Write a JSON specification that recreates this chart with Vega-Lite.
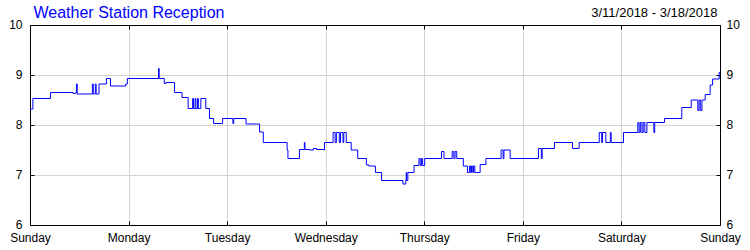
{
  "$schema": "https://vega.github.io/schema/vega-lite/v6.json",
  "width": 690,
  "height": 200,
  "autosize": {"type": "none"},
  "padding": {"left": 30, "top": 25, "right": 30, "bottom": 25},
  "background": "white",
  "view": {"stroke": null},
  "config": {
    "font": "Liberation Sans",
    "axis": {
      "labelFont": "Liberation Sans",
      "labelFontSize": 12,
      "labelColor": "black",
      "domainColor": "black",
      "domainWidth": 1,
      "tickColor": "black",
      "tickSize": -4,
      "gridColor": "#d3d3d3",
      "gridWidth": 1,
      "gridOpacity": 1,
      "labelOverlap": false,
      "labelFlush": false
    }
  },
  "data": {
    "values": [
      {"h": 0, "v": 8.32}, {"h": 0.7, "v": 8.53}, {"h": 5.0, "v": 8.65}, {"h": 10.5, "v": 8.63},
      {"h": 11.0, "v": 8.64}, {"h": 11.3, "v": 8.82}, {"h": 11.5, "v": 8.62}, {"h": 15.2, "v": 8.82},
      {"h": 15.4, "v": 8.62}, {"h": 15.9, "v": 8.82}, {"h": 16.1, "v": 8.62}, {"h": 16.8, "v": 8.82},
      {"h": 18.6, "v": 8.93}, {"h": 19.6, "v": 8.78}, {"h": 23.3, "v": 8.82}, {"h": 23.7, "v": 8.93},
      {"h": 31.3, "v": 9.13}, {"h": 31.45, "v": 8.93}, {"h": 32.7, "v": 8.83}, {"h": 33.1, "v": 8.85},
      {"h": 35.2, "v": 8.65}, {"h": 37.0, "v": 8.55}, {"h": 38.5, "v": 8.33}, {"h": 39.6, "v": 8.53},
      {"h": 39.8, "v": 8.33}, {"h": 40.2, "v": 8.53}, {"h": 40.4, "v": 8.33}, {"h": 40.8, "v": 8.53},
      {"h": 41.0, "v": 8.33}, {"h": 41.6, "v": 8.53}, {"h": 42.8, "v": 8.33}, {"h": 43.7, "v": 8.13},
      {"h": 44.7, "v": 8.03}, {"h": 46.9, "v": 8.13}, {"h": 49.4, "v": 8.03}, {"h": 49.6, "v": 8.13},
      {"h": 52.6, "v": 8.02}, {"h": 55.9, "v": 7.86}, {"h": 56.8, "v": 7.65}, {"h": 62.6, "v": 7.5},
      {"h": 62.8, "v": 7.33}, {"h": 65.6, "v": 7.51}, {"h": 66.8, "v": 7.65}, {"h": 66.95, "v": 7.51},
      {"h": 68.0, "v": 7.5}, {"h": 69.0, "v": 7.53}, {"h": 69.8, "v": 7.51}, {"h": 71.6, "v": 7.5},
      {"h": 71.7, "v": 7.65}, {"h": 73.8, "v": 7.85}, {"h": 74.3, "v": 7.65}, {"h": 74.6, "v": 7.85},
      {"h": 75.3, "v": 7.65}, {"h": 75.6, "v": 7.85}, {"h": 76.2, "v": 7.65}, {"h": 76.4, "v": 7.85},
      {"h": 77.0, "v": 7.65}, {"h": 78.2, "v": 7.5}, {"h": 79.8, "v": 7.33}, {"h": 81.9, "v": 7.2},
      {"h": 82.5, "v": 7.18}, {"h": 84.1, "v": 7.05}, {"h": 85.6, "v": 6.89}, {"h": 90.8, "v": 6.82},
      {"h": 91.5, "v": 6.89}, {"h": 91.6, "v": 7.05}, {"h": 91.7, "v": 6.89}, {"h": 92.0, "v": 7.05},
      {"h": 93.5, "v": 7.19}, {"h": 94.7, "v": 7.33}, {"h": 95.0, "v": 7.19}, {"h": 95.3, "v": 7.33},
      {"h": 95.6, "v": 7.19}, {"h": 96.1, "v": 7.33}, {"h": 100.2, "v": 7.47}, {"h": 100.8, "v": 7.33},
      {"h": 102.8, "v": 7.47}, {"h": 103.2, "v": 7.33}, {"h": 103.5, "v": 7.47}, {"h": 103.9, "v": 7.33},
      {"h": 105.5, "v": 7.18}, {"h": 106.5, "v": 7.05}, {"h": 107.0, "v": 7.18}, {"h": 107.3, "v": 7.05},
      {"h": 107.5, "v": 7.18}, {"h": 107.8, "v": 7.05}, {"h": 108.0, "v": 7.18}, {"h": 108.3, "v": 7.05},
      {"h": 109.6, "v": 7.21}, {"h": 111.0, "v": 7.33}, {"h": 114.7, "v": 7.5}, {"h": 115.2, "v": 7.33},
      {"h": 115.4, "v": 7.5}, {"h": 116.9, "v": 7.33}, {"h": 123.8, "v": 7.53}, {"h": 124.5, "v": 7.33},
      {"h": 124.7, "v": 7.53}, {"h": 127.7, "v": 7.65}, {"h": 132.1, "v": 7.53}, {"h": 133.7, "v": 7.65},
      {"h": 138.6, "v": 7.85}, {"h": 139.2, "v": 7.65}, {"h": 139.4, "v": 7.85}, {"h": 140.2, "v": 7.65},
      {"h": 141.3, "v": 7.85}, {"h": 141.5, "v": 7.65}, {"h": 144.5, "v": 7.85}, {"h": 148.0, "v": 8.05},
      {"h": 148.3, "v": 7.85}, {"h": 148.6, "v": 8.05}, {"h": 149.0, "v": 7.85}, {"h": 149.3, "v": 8.05},
      {"h": 149.7, "v": 7.85}, {"h": 150.2, "v": 8.05}, {"h": 151.9, "v": 7.85}, {"h": 152.1, "v": 8.05},
      {"h": 154.5, "v": 8.13}, {"h": 158.7, "v": 8.35}, {"h": 161.0, "v": 8.5}, {"h": 162.6, "v": 8.29},
      {"h": 162.9, "v": 8.5}, {"h": 163.2, "v": 8.29}, {"h": 163.6, "v": 8.5}, {"h": 164.4, "v": 8.61},
      {"h": 165.6, "v": 8.8}, {"h": 166.2, "v": 8.92}, {"h": 167.8, "v": 9.05}, {"h": 168, "v": 9.05}
    ]
  },
  "layer": [
    {
      "mark": {"type": "line", "interpolate": "step-after", "color": "#0000ff", "strokeWidth": 1},
      "encoding": {
        "x": {
          "field": "h", "type": "quantitative",
          "scale": {"domain": [0, 168], "nice": false, "zero": false},
          "axis": {
            "orient": "bottom", "title": null,
            "values": [0, 24, 48, 72, 96, 120, 144, 168],
            "labelExpr": "['Sunday','Monday','Tuesday','Wednesday','Thursday','Friday','Saturday','Sunday'][round(datum.value/24)]",
            "labelPadding": 11.5, "grid": true, "labelAlign": "center"
          }
        },
        "y": {
          "field": "v", "type": "quantitative",
          "scale": {"domain": [6, 10], "nice": false, "zero": false},
          "axis": {
            "orient": "left", "values": [6, 7, 8, 9, 10], "grid": true,
            "labelPadding": 12, "labelAlign": "right", "labelOffset": -0.5,
            "title": "Weather Station Reception",
            "titleAngle": 0, "titleAlign": "left", "titleBaseline": "alphabetic",
            "titleX": 3, "titleY": -8, "titleColor": "#0000ff",
            "titleFont": "Liberation Sans", "titleFontSize": 16, "titleFontWeight": "normal"
          }
        }
      }
    },
    {
      "mark": {"type": "line", "interpolate": "step-after", "strokeOpacity": 0},
      "encoding": {
        "x": {
          "field": "h", "type": "quantitative",
          "scale": {"domain": [0, 168], "nice": false, "zero": false},
          "axis": {
            "orient": "top", "labels": false, "grid": false,
            "values": [0, 24, 48, 72, 96, 120, 144, 168],
            "title": "3/11/2018 - 3/18/2018",
            "titleAlign": "right", "titleBaseline": "alphabetic", "titleAnchor": "end",
            "titleX": 687, "titleY": -8.5,
            "titleFont": "Liberation Sans", "titleFontSize": 13, "titleFontWeight": "normal", "titleColor": "black"
          }
        },
        "y": {
          "field": "v", "type": "quantitative",
          "scale": {"domain": [6, 10], "nice": false, "zero": false},
          "axis": {
            "orient": "right", "values": [6, 7, 8, 9, 10], "grid": false,
            "labelPadding": 10, "labelAlign": "left", "labelOffset": -0.5, "title": null
          }
        }
      }
    }
  ],
  "resolve": {"scale": {"x": "shared", "y": "shared"}, "axis": {"x": "independent", "y": "independent"}}
}
